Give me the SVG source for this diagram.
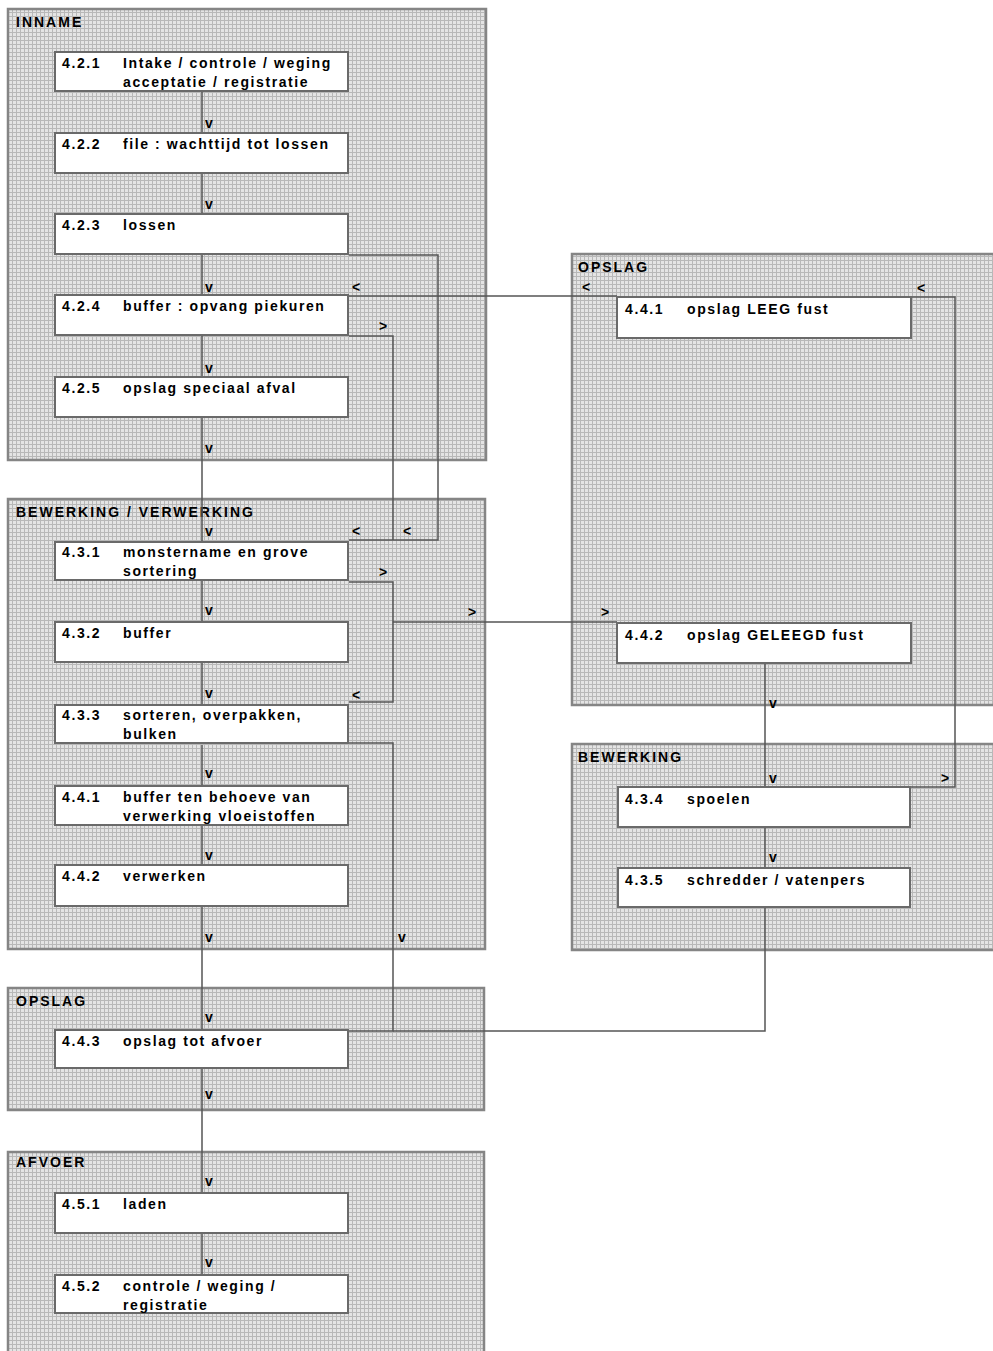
<svg xmlns="http://www.w3.org/2000/svg" width="993" height="1351" viewBox="0 0 993 1351">
<defs>
<pattern id="ht" width="4" height="4" patternUnits="userSpaceOnUse">
<rect width="4" height="4" fill="#e4e4e4"/>
<rect width="4" height="1" fill="#b8b8b8"/>
<rect width="1" height="4" fill="#b8b8b8"/>
</pattern>
</defs>
<style>
.panel{fill:url(#ht);stroke:#858585;stroke-width:2.5}
.box{fill:#ffffff;stroke:#6a6a6a;stroke-width:2}
.t{font-family:"Liberation Sans",Arial,sans-serif;font-weight:bold;font-size:14px;letter-spacing:1.6px;fill:#000}
.h{font-family:"Liberation Sans",Arial,sans-serif;font-weight:bold;font-size:14px;letter-spacing:2px;fill:#000}
.c{fill:none;stroke:#555;stroke-width:1.5}
.a{font-family:"Liberation Sans",Arial,sans-serif;font-weight:bold;font-size:14px;fill:#000;text-anchor:middle}
</style>
<rect width="993" height="1351" fill="#ffffff"/>

<g id="panel-inname"><rect class="panel" x="8" y="9" width="478" height="451"/><text class="h" x="16" y="27">INNAME</text></g>
<g id="panel-bewerking-verwerking"><rect class="panel" x="8" y="499" width="477" height="450"/><text class="h" x="16" y="517">BEWERKING / VERWERKING</text></g>
<g id="panel-opslag-afvoer"><rect class="panel" x="8" y="988" width="476" height="122"/><text class="h" x="16" y="1006">OPSLAG</text></g>
<g id="panel-afvoer"><rect class="panel" x="8" y="1152" width="476" height="215"/><text class="h" x="16" y="1167">AFVOER</text></g>
<g id="panel-opslag-fust"><rect class="panel" x="572" y="254" width="430" height="451"/><text class="h" x="578" y="272">OPSLAG</text></g>
<g id="panel-bewerking-fust"><rect class="panel" x="572" y="744" width="430" height="206"/><text class="h" x="578" y="762">BEWERKING</text></g>

<g id="connectors">
<path class="c" d="M202,91V133M202,173V214M202,254V295M202,335V377M202,417V542M202,580V622M202,662V705M202,745V786M202,825V865M202,905V1030M202,1068V1193M202,1233V1275"/>
<path class="c" d="M349,255H438V540H349"/>
<path class="c" d="M617,296H349"/>
<path class="c" d="M349,336H393V540"/>
<path class="c" d="M349,582H393V702H349"/>
<path class="c" d="M393,622H617"/>
<path class="c" d="M349,743H393V1031H348"/>
<path class="c" d="M765,663V787M765,827V868M765,907V1031H393"/>
<path class="c" d="M910,787H955V297H912"/>
<text class="a" x="209" y="128">v</text>
<text class="a" x="209" y="209">v</text>
<text class="a" x="209" y="292">v</text>
<text class="a" x="209" y="373">v</text>
<text class="a" x="209" y="453">v</text>
<text class="a" x="209" y="536">v</text>
<text class="a" x="209" y="615">v</text>
<text class="a" x="209" y="698">v</text>
<text class="a" x="209" y="778">v</text>
<text class="a" x="209" y="860">v</text>
<text class="a" x="209" y="942">v</text>
<text class="a" x="209" y="1022">v</text>
<text class="a" x="209" y="1099">v</text>
<text class="a" x="209" y="1186">v</text>
<text class="a" x="209" y="1267">v</text>
<text class="a" x="402" y="942">v</text>
<text class="a" x="773" y="708">v</text>
<text class="a" x="773" y="783">v</text>
<text class="a" x="773" y="862">v</text>
<text class="a" x="356" y="292">&lt;</text>
<text class="a" x="356" y="536">&lt;</text>
<text class="a" x="407" y="536">&lt;</text>
<text class="a" x="356" y="700">&lt;</text>
<text class="a" x="586" y="292">&lt;</text>
<text class="a" x="921" y="293">&lt;</text>
<text class="a" x="383" y="331">&gt;</text>
<text class="a" x="383" y="577">&gt;</text>
<text class="a" x="472" y="617">&gt;</text>
<text class="a" x="605" y="617">&gt;</text>
<text class="a" x="945" y="783">&gt;</text>
</g>

<g id="n421"><rect class="box" x="55" y="52" width="293" height="39"/><text class="t" x="62" y="68">4.2.1</text><text class="t" x="123" y="68">Intake / controle / weging</text><text class="t" x="123" y="87">acceptatie / registratie</text></g>
<g id="n422"><rect class="box" x="55" y="133" width="293" height="40"/><text class="t" x="62" y="149">4.2.2</text><text class="t" x="123" y="149">file : wachttijd tot lossen</text></g>
<g id="n423"><rect class="box" x="55" y="214" width="293" height="40"/><text class="t" x="62" y="230">4.2.3</text><text class="t" x="123" y="230">lossen</text></g>
<g id="n424"><rect class="box" x="55" y="295" width="293" height="40"/><text class="t" x="62" y="311">4.2.4</text><text class="t" x="123" y="311">buffer : opvang piekuren</text></g>
<g id="n425"><rect class="box" x="55" y="377" width="293" height="40"/><text class="t" x="62" y="393">4.2.5</text><text class="t" x="123" y="393">opslag speciaal afval</text></g>

<g id="n431"><rect class="box" x="55" y="542" width="293" height="38"/><text class="t" x="62" y="557">4.3.1</text><text class="t" x="123" y="557">monstername en grove</text><text class="t" x="123" y="576">sortering</text></g>
<g id="n432"><rect class="box" x="55" y="622" width="293" height="40"/><text class="t" x="62" y="638">4.3.2</text><text class="t" x="123" y="638">buffer</text></g>
<g id="n433"><rect class="box" x="55" y="705" width="293" height="38"/><text class="t" x="62" y="720">4.3.3</text><text class="t" x="123" y="720">sorteren, overpakken,</text><text class="t" x="123" y="739">bulken</text></g>
<g id="n441b"><rect class="box" x="55" y="786" width="293" height="39"/><text class="t" x="62" y="802">4.4.1</text><text class="t" x="123" y="802">buffer ten behoeve van</text><text class="t" x="123" y="821">verwerking vloeistoffen</text></g>
<g id="n442v"><rect class="box" x="55" y="865" width="293" height="41"/><text class="t" x="62" y="881">4.4.2</text><text class="t" x="123" y="881">verwerken</text></g>

<g id="n443"><rect class="box" x="55" y="1030" width="293" height="38"/><text class="t" x="62" y="1046">4.4.3</text><text class="t" x="123" y="1046">opslag tot afvoer</text></g>

<g id="n451"><rect class="box" x="55" y="1193" width="293" height="40"/><text class="t" x="62" y="1209">4.5.1</text><text class="t" x="123" y="1209">laden</text></g>
<g id="n452"><rect class="box" x="55" y="1275" width="293" height="38"/><text class="t" x="62" y="1291">4.5.2</text><text class="t" x="123" y="1291">controle / weging /</text><text class="t" x="123" y="1310">registratie</text></g>

<g id="n441"><rect class="box" x="617" y="297" width="294" height="41"/><text class="t" x="625" y="314">4.4.1</text><text class="t" x="687" y="314">opslag LEEG fust</text></g>
<g id="n442"><rect class="box" x="617" y="623" width="294" height="40"/><text class="t" x="625" y="640">4.4.2</text><text class="t" x="687" y="640">opslag GELEEGD fust</text></g>
<g id="n434"><rect class="box" x="618" y="787" width="292" height="40"/><text class="t" x="625" y="804">4.3.4</text><text class="t" x="687" y="804">spoelen</text></g>
<g id="n435"><rect class="box" x="618" y="868" width="292" height="39"/><text class="t" x="625" y="885">4.3.5</text><text class="t" x="687" y="885">schredder / vatenpers</text></g>
</svg>
